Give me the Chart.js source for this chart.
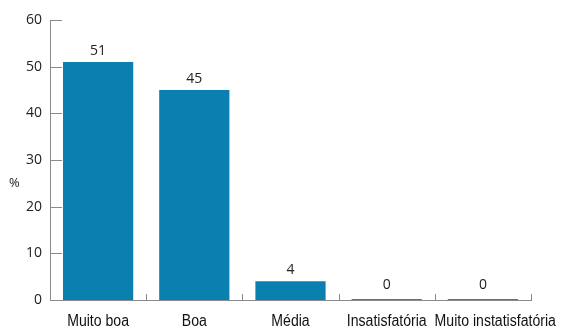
<!DOCTYPE html>
<html>
<head>
<meta charset="utf-8">
<script src="https://cdn.jsdelivr.net/npm/chart.js@4"></script>
<style>
  html, body { margin: 0; padding: 0; background: #fff; }
  #wrap { width: 573px; height: 329px; }
</style>
</head>
<body>
<div id="wrap"><canvas id="chart" width="573" height="329"></canvas></div>
<script>
// rating categories and share of answers (%)
const categories = ['Muito boa', 'Boa', 'Média', 'Insatisfatória', 'Muito instatisfatória'];
const percentages = [51, 45, 4, 0, 0];
const yTicks = [0, 10, 20, 30, 40, 50, 60];

const barColor = '#0a80b1';
const axisColor = '#8a8a8a';
const numFont = '"Open Sans", sans-serif';
const catFont = '"Liberation Sans", Arial, sans-serif';
const squeeze = 0.88;   // horizontal scale for category names
const labelGap = 8;     // minimum space between neighbouring names

// short inward tick marks, condensed category names, value labels, unit label
const decorations = {
    id: 'decorations',
    afterDatasetsDraw(chart) {
        const ctx = chart.ctx;
        const x = chart.scales.x, y = chart.scales.y;
        const area = chart.chartArea;
        ctx.save();
        ctx.strokeStyle = axisColor;
        ctx.lineWidth = 1;
        ctx.beginPath();
        yTicks.forEach(v => {
            const py = Math.round(y.getPixelForValue(v)) + 0.5;
            ctx.moveTo(area.left, py);
            ctx.lineTo(area.left + 12, py);
        });
        const step = (area.right - area.left) / categories.length;
        for (let i = 1; i <= categories.length; i++) {
            const px = Math.round(area.left + step * i) + 0.5;
            ctx.moveTo(px, area.bottom);
            ctx.lineTo(px, area.bottom - 6);
        }
        ctx.stroke();

        // zero-valued bars show as a thin line on the baseline
        const meta = chart.getDatasetMeta(0);
        ctx.strokeStyle = '#6f6f6f';
        meta.data.forEach((bar, i) => {
            if (percentages[i] === 0) {
                ctx.beginPath();
                ctx.moveTo(bar.x - bar.width / 2, area.bottom - 0.5);
                ctx.lineTo(bar.x + bar.width / 2, area.bottom - 0.5);
                ctx.stroke();
            }
        });

        ctx.fillStyle = '#222';
        ctx.font = '14px ' + numFont;
        ctx.textAlign = 'center';
        ctx.textBaseline = 'alphabetic';
        meta.data.forEach((bar, i) => {
            const top = y.getPixelForValue(percentages[i]);
            const off = percentages[i] === 0 ? 11 : 7;
            ctx.fillText(String(percentages[i]), bar.x, top - off);
        });

        // category names, squeezed; a name that would collide with the
        // previous one is pushed to the right
        ctx.fillStyle = '#111';
        ctx.font = '16px ' + catFont;
        ctx.textAlign = 'left';
        ctx.textBaseline = 'middle';
        let prevEnd = -Infinity;
        categories.forEach((name, i) => {
            const w = ctx.measureText(name).width * squeeze;
            let start = x.getPixelForValue(i) - w / 2;
            if (start < prevEnd + labelGap) start = prevEnd + labelGap;
            ctx.save();
            ctx.translate(start, area.bottom + 22);
            ctx.scale(squeeze, 1);
            ctx.fillText(name, 0, 0);
            ctx.restore();
            prevEnd = start + w;
        });

        ctx.font = '13px ' + numFont;
        ctx.fillStyle = '#222';
        ctx.fillText('%', 9, 183);
        ctx.restore();
    }
};

new Chart(document.getElementById('chart'), {
    type: 'bar',
    data: {
        labels: categories,
        datasets: [{
            data: percentages,
            backgroundColor: barColor,
            categoryPercentage: 0.73,
            barPercentage: 1
        }]
    },
    options: {
        responsive: false,
        animation: false,
        layout: { padding: { top: 20, right: 42, left: 0, bottom: 0 } },
        plugins: { legend: { display: false }, tooltip: { enabled: false } },
        scales: {
            x: {
                offset: true,
                grid: { display: false, drawTicks: false },
                border: { display: true, color: axisColor, width: 1 },
                ticks: { display: false },
                afterFit(scale) { scale.height = 29; }
            },
            y: {
                min: 0,
                max: 60,
                afterBuildTicks(scale) { scale.ticks = yTicks.map(v => ({ value: v })); },
                grid: { display: false, drawTicks: false },
                border: { display: true, color: axisColor, width: 1 },
                ticks: {
                    color: '#222',
                    font: { family: numFont, size: 14 },
                    padding: 8
                },
                afterFit(scale) { scale.width = 50; }
            }
        }
    },
    plugins: [decorations]
});
</script>
</body>
</html>
